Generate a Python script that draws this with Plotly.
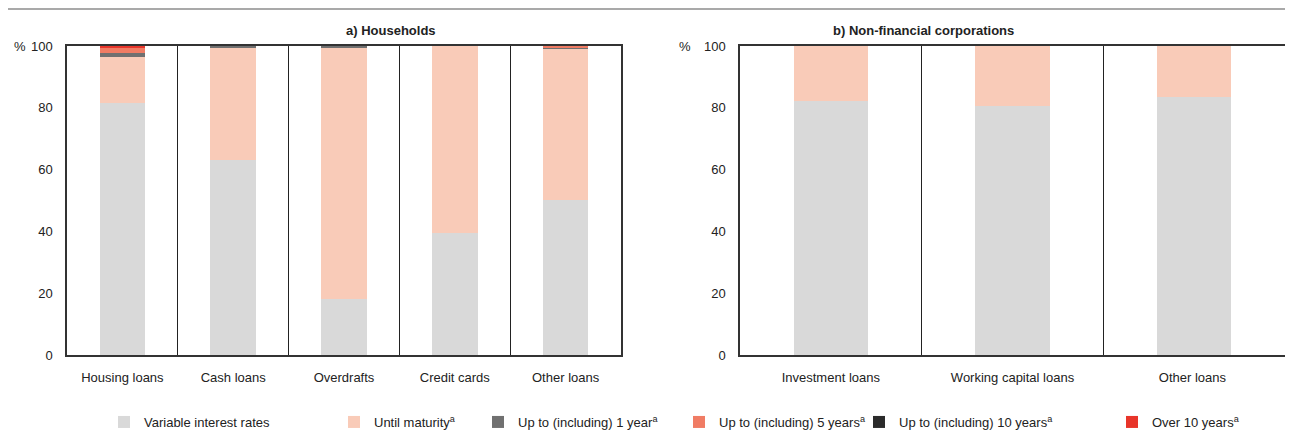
import plotly.graph_objects as go

# a) households
hh_cats = ['Housing loans', 'Cash loans', 'Overdrafts', 'Credit cards', 'Other loans']
hh_variable = [81.5, 63.1, 18.1, 39.5, 50.2]
hh_maturity = [14.8, 36.5, 81.4, 60.5, 49.0]
hh_1y = [1.3, 0.4, 0.5, 0.0, 0.2]
hh_5y = [1.9, 0.0, 0.0, 0.0, 0.6]
hh_10y = [0.1, 0.0, 0.0, 0.0, 0.0]
hh_over10 = [0.4, 0.0, 0.0, 0.0, 0.0]

# b) non-financial corporations
nfc_cats = ['Investment loans', 'Working capital loans', 'Other loans ']
nfc_variable = [82.2, 80.6, 83.5]
nfc_maturity = [17.8, 19.4, 16.5]

series_names = ['Variable interest rates', 'Until maturity<sup>a</sup>',
                'Up to (including) 1 year<sup>a</sup>', 'Up to (including) 5 years<sup>a</sup>',
                'Up to (including) 10 years<sup>a</sup>', 'Over 10 years<sup>a</sup>']
colors = ['#d9d9d9', '#f9cbb8', '#707070', '#f07c64', '#2b2b2b', '#e8352a']

# page body has an 8px margin, so the figure is laid out 8px in from the window edge
OFF = 8
W, H = 1293 - 2*OFF, 432 - OFF
FONT = 'Liberation Sans, Arial, sans-serif'

def px(x):
    return (x - OFF) / W

def py(y):
    return 1 - (y - OFF) / H

legend_sq = [124, 354, 498, 699, 879, 1132]  # legend swatch centres (window px)

hh_series = [hh_variable, hh_maturity, hh_1y, hh_5y, hh_10y, hh_over10]
nfc_series = [nfc_variable, nfc_maturity]

fig = go.Figure()
for i, name in enumerate(series_names):
    lg = 'legend' if i == 0 else 'legend%d' % (i+1)
    fig.add_trace(go.Bar(x=hh_cats, y=hh_series[i], name=name, marker_color=colors[i],
                         marker_line_width=0, xaxis='x', yaxis='y', legend=lg))
    if i < 2:
        fig.add_trace(go.Bar(x=nfc_cats, y=nfc_series[i], name=name, marker_color=colors[i],
                             marker_line_width=0, xaxis='x2', yaxis='y2', showlegend=False))

ydom = [py(355), py(46)]
axis_common = dict(showline=True, linecolor='#333333', linewidth=1.5, mirror=True,
                   tickfont=dict(size=13, color='#222'), ticks='')
xaxis_common = dict(axis_common, tickson='boundaries', showgrid=True, gridcolor='#222222',
                    gridwidth=1, ticklabelstandoff=10)
yaxis_common = dict(axis_common, range=[0, 100], dtick=20, showgrid=False, zeroline=False,
                    ticklabelstandoff=10)

layout = dict(
    width=W, height=H, barmode='stack', bargap=0.59,
    plot_bgcolor='white', paper_bgcolor='white',
    margin=dict(l=0, r=0, t=0, b=0, autoexpand=False),
    font=dict(family=FONT, size=13, color='#222'),
    xaxis=dict(xaxis_common, domain=[px(67), px(621)], anchor='y'),
    yaxis=dict(yaxis_common, domain=ydom, anchor='x'),
    xaxis2=dict(xaxis_common, domain=[px(740), min(1, px(1291))], anchor='y2'),
    yaxis2=dict(yaxis_common, domain=ydom, anchor='x2'),
    annotations=[
        dict(text='<b>a) Households</b>', x=px((67+621)/2), y=py(30), xref='paper', yref='paper',
             yanchor='middle', showarrow=False, font=dict(size=13)),
        dict(text='<b>b) Non-financial corporations</b>', x=px((740+1291)/2), y=py(30),
             xref='paper', yref='paper', yanchor='middle', showarrow=False, font=dict(size=13)),
        dict(text='%', x=px(12), y=py(47), xref='paper', yref='paper', yanchor='middle',
             showarrow=False, font=dict(size=13)),
        dict(text='%', x=px(685), y=py(47), xref='paper', yref='paper', yanchor='middle',
             showarrow=False, font=dict(size=13)),
    ],
    shapes=[dict(type='line', xref='paper', yref='paper', x0=0, x1=1, y0=py(9), y1=py(9),
                 line=dict(color='#8c8c8c', width=1.5))],
)
for i in range(6):
    key = 'legend' if i == 0 else 'legend%d' % (i+1)
    layout[key] = dict(x=px(legend_sq[i] - 20), y=py(422), xanchor='left', yanchor='middle',
                       orientation='h', bgcolor='rgba(0,0,0,0)', font=dict(size=13),
                       itemwidth=30)
fig.update_layout(**layout)

fig.write_html('out.html')
